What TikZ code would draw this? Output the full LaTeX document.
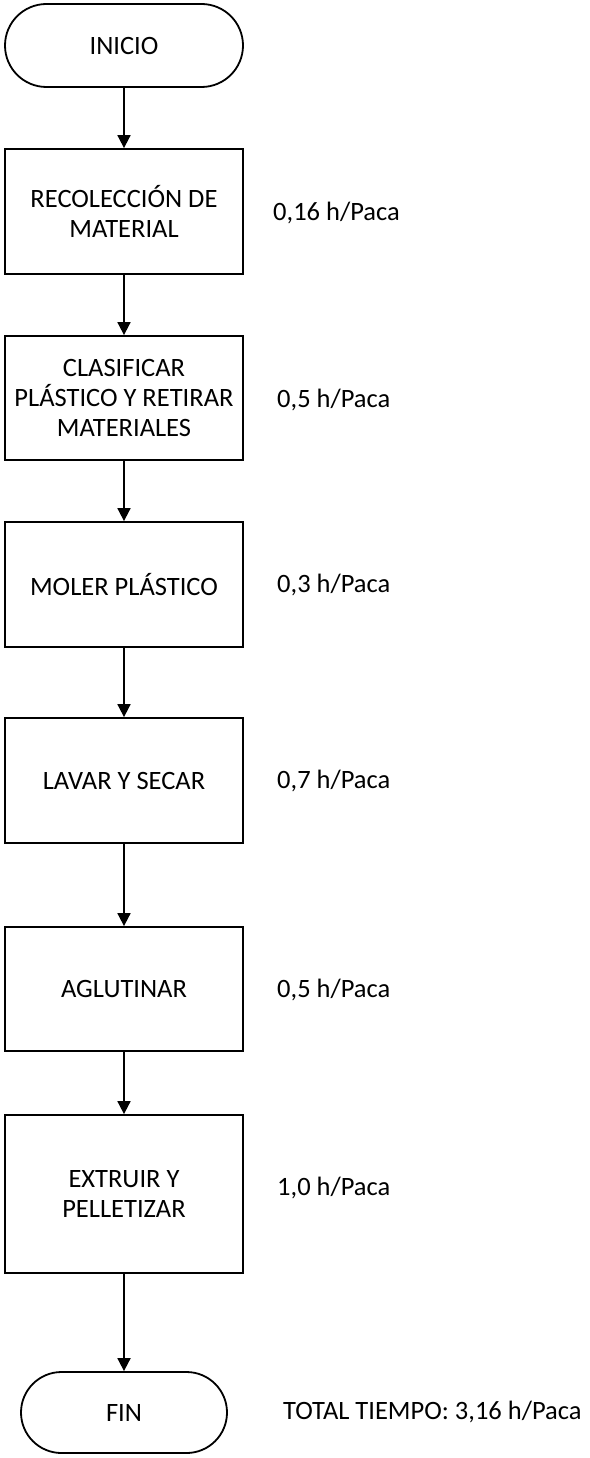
\documentclass[tikz,border=0pt]{standalone}
\usepackage{fontspec}
\setmainfont{Carlito}
\usetikzlibrary{arrows.meta,shapes.misc}
\begin{document}
\begin{tikzpicture}[x=1pt,y=-1pt,
  font=\fontsize{26.5}{30}\selectfont,
  stepbox/.style={draw, line width=1.8pt, rectangle, minimum width=238pt, align=center, inner sep=0pt},
  terminal/.style={draw, line width=1.8pt, rounded rectangle, align=center, inner sep=0pt},
  flow/.style={line width=1.8pt, -{Triangle[length=13pt,width=13pt]}},
  timelabel/.style={anchor=west, inner sep=0pt}]
\useasboundingbox (0,0) rectangle (589,1458);
\node[terminal, minimum width=238pt, minimum height=83pt] (inicio) at (124,45.5) {INICIO};
\node[stepbox, minimum height=125pt] (s1) at (124,211.5) {RECOLECCIÓN DE\\MATERIAL};
\node[stepbox, minimum height=124pt] (s2) at (124,398) {CLASIFICAR\\PLÁSTICO Y RETIRAR\\MATERIALES};
\node[stepbox, minimum height=125pt] (s3) at (124,584.5) {MOLER PLÁSTICO};
\node[stepbox, minimum height=125pt] (s4) at (124,780.5) {LAVAR Y SECAR};
\node[stepbox, minimum height=124pt] (s5) at (124,989) {AGLUTINAR};
\node[stepbox, minimum height=158pt] (s6) at (124,1194) {EXTRUIR Y\\PELLETIZAR};
\node[terminal, minimum width=206pt, minimum height=81pt] (fin) at (124,1412.5) {FIN};

\draw[flow] (inicio) -- (s1);
\draw[flow] (s1) -- (s2);
\draw[flow] (s2) -- (s3);
\draw[flow] (s3) -- (s4);
\draw[flow] (s4) -- (s5);
\draw[flow] (s5) -- (s6);
\draw[flow] (s6) -- (fin);

\node[timelabel] (t1) at (273,213) {0,16 h/Paca};
\node[timelabel] (t2) at (277,400) {0,5 h/Paca};
\node[timelabel] (t3) at (277,585) {0,3 h/Paca};
\node[timelabel] (t4) at (277,781) {0,7 h/Paca};
\node[timelabel] (t5) at (277,990) {0,5 h/Paca};
\node[timelabel] (t6) at (277,1188) {1,0 h/Paca};
\node[timelabel] (tt) at (283,1412) {TOTAL TIEMPO: 3,16 h/Paca};
\end{tikzpicture}
\end{document}
